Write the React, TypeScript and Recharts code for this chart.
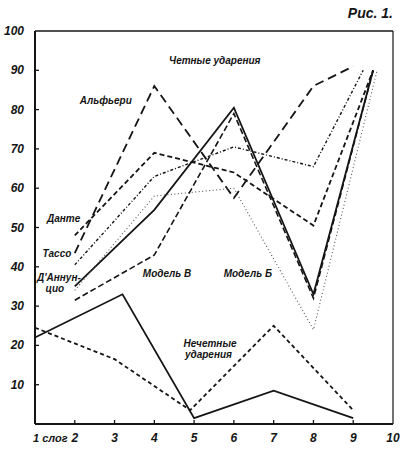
import React from "react";
import { Line, LineChart, ReferenceDot, ReferenceLine, XAxis, YAxis } from "recharts";

// Pixel frame of the reference: plot area runs x 35..393, y 31..424.
const W = 406;
const H = 450;
const FONT = '"Liberation Sans", Arial, sans-serif';
const INK = "#151515";

const X_TICKS = [1, 2, 3, 4, 5, 6, 7, 8, 9, 10];
const X_LABELS = ["1 слог", "2", "3", "4", "5", "6", "7", "8", "9", "10"];
const Y_TICKS = [10, 20, 30, 40, 50, 60, 70, 80, 90, 100];

// Even stresses (четные ударения), [syllable, %]
const dannunzio = [[2, 35], [4, 54.5], [6, 80.5], [8, 33], [9.5, 90]];
const alfieri = [[2, 43.5], [4, 86], [6, 57.5], [8, 86], [9, 91]];
const dante = [[2, 48], [4, 69], [6, 64], [8, 50.5], [9.5, 90]];
const tasso = [[2, 40.5], [4, 63], [6, 70.5], [8, 65.5], [9.25, 90]];
const modelB = [[2, 34], [4, 58], [6, 60], [8, 24], [9.6, 90]];
const modelV = [[2, 31.5], [4, 43], [6, 79], [8, 32], [9.5, 90]];

// Odd stresses (нечетные ударения)
const oddSolid = [[1, 22], [3.2, 33], [5, 1.5], [7, 8.5], [9, 1.5]];
const oddDashed = [[1, 24.5], [3, 16.5], [4.9, 3.5], [7, 25], [9, 3.5]];

// Annotation text placed in data coordinates (centre of the text)
const NOTES: [number, number, string][] = [
  [5.52, 92.6, "Четные ударения"],
  [2.78, 82.4, "Альфьери"],
  [1.72, 52.4, "Данте"],
  [1.55, 43.3, "Тассо"],
  [1.6, 37.4, "Д'Аннун-"],
  [1.5, 34.4, "цио"],
  [4.32, 38.4, "Модель В"],
  [6.35, 38.4, "Модель Б"],
  [5.4, 20.4, "Нечетные"],
  [5.36, 17.6, "ударения"],
];

const toPts = (rows: number[][]) => rows.map(([x, y]) => ({ x, y }));

const SERIES = [
  { id: "dannunzio", data: dannunzio, dash: undefined, width: 1.8, color: INK },
  { id: "alfieri", data: alfieri, dash: "9 5", width: 1.8, color: INK },
  { id: "dante", data: dante, dash: "5 3", width: 1.8, color: INK },
  { id: "tasso", data: tasso, dash: "3 2 1 2", width: 1.4, color: INK },
  { id: "modelB", data: modelB, dash: "1 2.5", width: 1.1, color: "#555" },
  { id: "modelV", data: modelV, dash: "6 3", width: 1.6, color: INK },
  { id: "oddSolid", data: oddSolid, dash: undefined, width: 1.8, color: INK },
  { id: "oddDashed", data: oddDashed, dash: "4 3", width: 1.8, color: INK },
];

const textStyle = { fontFamily: FONT, fontStyle: "italic", fontWeight: 700, fill: INK } as const;

function XTick(props: any) {
  const { x, y, payload } = props;
  const i = X_TICKS.indexOf(payload.value);
  const first = i === 0;
  return (
    <g>
      {!first && i < X_TICKS.length - 1 && <line x1={x} y1={y} x2={x} y2={y - 4} stroke={INK} strokeWidth={1.3} />}
      {/* "1 слог" sits left-aligned under the origin, a touch smaller */}
      <text
        x={first ? x - 2 : x}
        y={y + 18}
        textAnchor={first ? "start" : "middle"}
        fontSize={first ? 11 : 12}
        {...textStyle}
      >
        {X_LABELS[i]}
      </text>
    </g>
  );
}

function YTick(props: any) {
  const { x, y, payload } = props;
  return (
    <g>
      {payload.value < 100 && <line x1={x} y1={y} x2={x + 4} y2={y} stroke={INK} strokeWidth={1.3} />}
      <text x={x - 11} y={y + 4} textAnchor="end" fontSize={12} {...textStyle}>
        {payload.value}
      </text>
    </g>
  );
}

export default function App() {
  return (
    <div style={{ position: "absolute", left: 0, top: 0, width: W, height: H, background: "#fff" }}>
      <LineChart width={W} height={H} margin={{ top: 31, right: 13, bottom: 0, left: 0 }}>
        <XAxis
          type="number"
          dataKey="x"
          domain={[1, 10]}
          ticks={X_TICKS}
          interval={0}
          height={26}
          tickSize={0}
          tickMargin={0}
          tickLine={false}
          axisLine={{ stroke: INK, strokeWidth: 2 }}
          tick={<XTick />}
        />
        <YAxis
          type="number"
          dataKey="y"
          domain={[0, 100]}
          ticks={Y_TICKS}
          interval={0}
          width={35}
          tickSize={0}
          tickMargin={0}
          tickLine={false}
          axisLine={{ stroke: INK, strokeWidth: 2 }}
          tick={<YTick />}
        />
        <ReferenceLine y={100} stroke={INK} strokeWidth={1.4} />
        <ReferenceLine x={10} stroke={INK} strokeWidth={1.2} />
        {SERIES.map((s) => (
          <Line
            key={s.id}
            data={toPts(s.data)}
            dataKey="y"
            type="linear"
            stroke={s.color}
            strokeWidth={s.width}
            strokeDasharray={s.dash}
            dot={false}
            activeDot={false}
            isAnimationActive={false}
          />
        ))}
        {NOTES.map(([x, y, t]) => (
          <ReferenceDot
            key={t}
            x={x}
            y={y}
            r={0}
            ifOverflow="visible"
            shape={(p: any) => (
              <text x={p.cx} y={p.cy + 3.5} textAnchor="middle" fontSize={10} {...textStyle}>
                {t}
              </text>
            )}
          />
        ))}
      </LineChart>
      <div
        style={{
          position: "absolute",
          right: W - 393,
          top: 5,
          fontFamily: FONT,
          fontStyle: "italic",
          fontWeight: 700,
          fontSize: 14,
          color: INK,
        }}
      >
        Рис. 1.
      </div>
    </div>
  );
}
